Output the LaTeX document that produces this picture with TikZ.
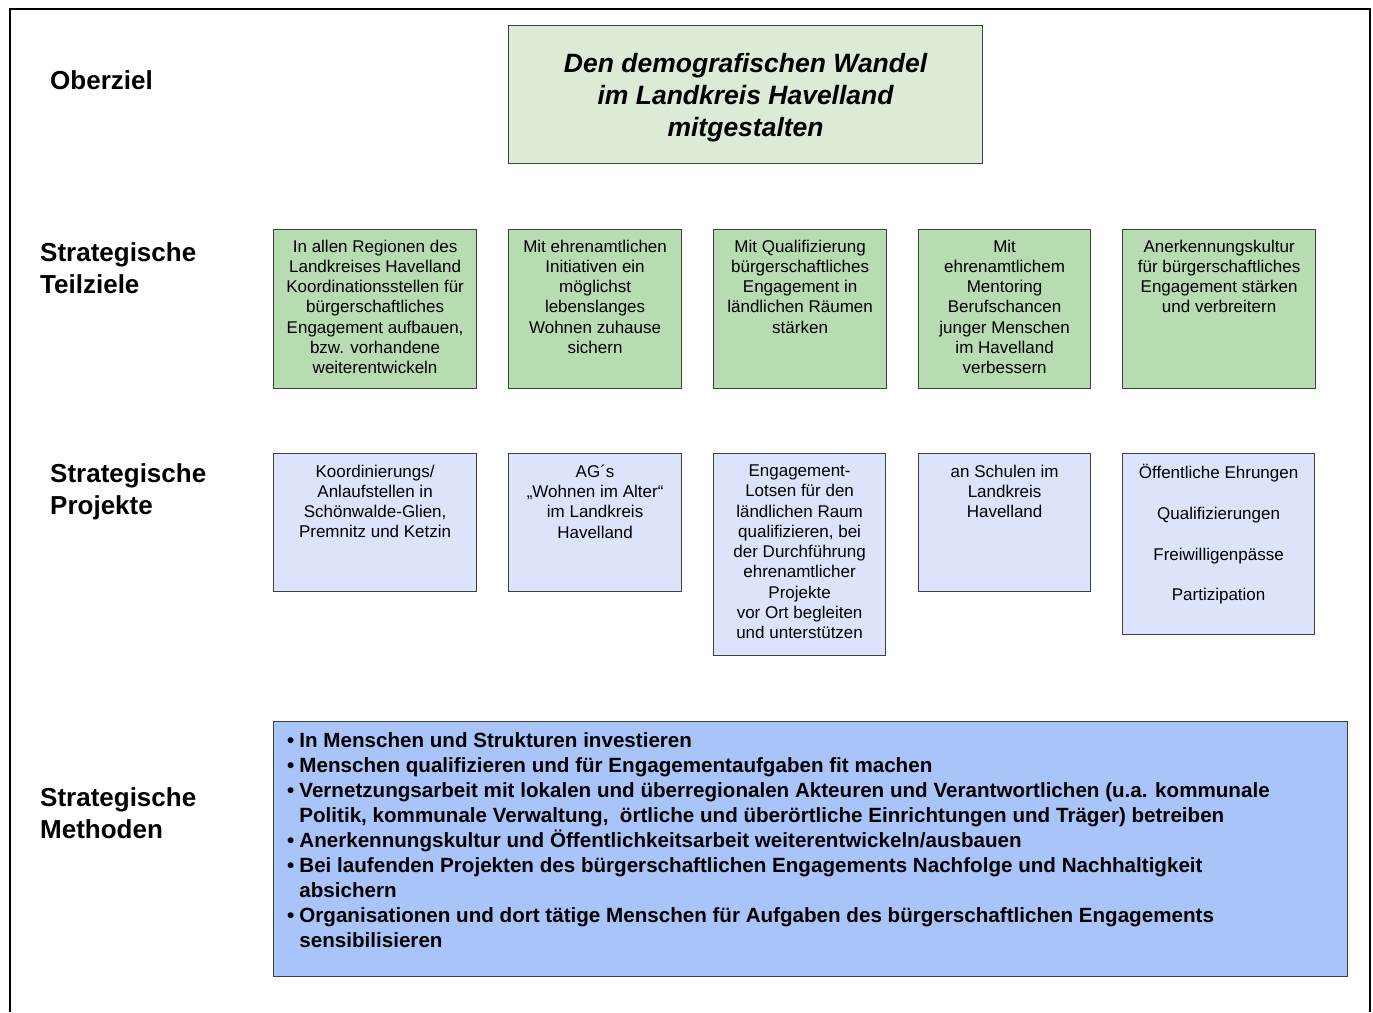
\documentclass[tikz,border=0pt]{standalone}
\usepackage{fontspec}
\setmainfont{Liberation Sans}
\usepackage{tikz}
\definecolor{zielgreen}{RGB}{220,235,214}
\definecolor{teilgreen}{RGB}{184,220,178}
\definecolor{projblue}{RGB}{220,228,251}
\definecolor{methblue}{RGB}{169,196,249}
\tikzset{
  box/.style={draw=black!75,line width=1.2pt,anchor=north west,inner sep=0pt},
  boxtext/.style={anchor=north,align=center,inner sep=0pt,font=\fontsize{17}{20.3}\selectfont},
}

\begin{document}
\begin{tikzpicture}[x=1pt,y=-1pt]
   \useasboundingbox (0,0) rectangle (1373,1012);
   \draw[line width=1.6pt] (10,1012) -- (10,9) -- (1370,9) -- (1370,1012);
   \begin{scope}[every node/.style={anchor=west,align=left,inner sep=0pt,font=\fontsize{26}{32}\selectfont\bfseries}]
    \node (oberziel) at (50,80) {Oberziel};
    \node (teilziele) at (40,268) {Strategische\\Teilziele};
    \node (projekte) at (50,492) {Strategische\\Projekte};
    \node (methoden) at (40,813) {Strategische\\Methoden};
   \end{scope}
   \node[box,fill=zielgreen,minimum width=474pt,minimum height=138pt] (ober) at (508,25) {};
   \node[align=center,inner sep=0pt,font=\fontsize{26.5}{32}\selectfont\bfseries\itshape] (obertext) at ([yshift=-3pt]ober.center) {Den demografischen Wandel\\im Landkreis Havelland\\mitgestalten};
   \begin{scope}[every node/.append style={fill=teilgreen}]
    \node[box,minimum width=203pt,minimum height=159pt] (t1) at (273,229) {};
    \node[box,minimum width=173pt,minimum height=159pt] (t2) at (508,229) {};
    \node[box,minimum width=173pt,minimum height=159pt] (t3) at (713,229) {};
    \node[box,minimum width=172pt,minimum height=159pt] (t4) at (918,229) {};
    \node[box,minimum width=193pt,minimum height=159pt] (t5) at (1122,229) {};
   \end{scope}
   \node[boxtext] (t1text) at ([yshift=-10.5pt]t1.north) {In allen Regionen des\\Landkreises Havelland\\Koordinationsstellen für\\bürgerschaftliches\\Engagement aufbauen,\\bzw. vorhandene\\weiterentwickeln};
   \node[boxtext] (t2text) at ([yshift=-10.5pt]t2.north) {Mit ehrenamtlichen\\Initiativen ein\\möglichst\\lebenslanges\\Wohnen zuhause\\sichern};
   \node[boxtext] (t3text) at ([yshift=-10.5pt]t3.north) {Mit Qualifizierung\\bürgerschaftliches\\Engagement in\\ländlichen Räumen\\stärken};
   \node[boxtext] (t4text) at ([yshift=-10.5pt]t4.north) {Mit\\ehrenamtlichem\\Mentoring\\Berufschancen\\junger Menschen\\im Havelland\\verbessern};
   \node[boxtext] (t5text) at ([yshift=-10.5pt]t5.north) {Anerkennungskultur\\für bürgerschaftliches\\Engagement stärken\\und verbreitern};
   \begin{scope}[every node/.append style={fill=projblue}]
    \node[box,minimum width=203pt,minimum height=138pt] (p1) at (273,453) {};
    \node[box,minimum width=173pt,minimum height=138pt] (p2) at (508,453) {};
    \node[box,minimum width=172pt,minimum height=202pt] (p3) at (713,453) {};
    \node[box,minimum width=172pt,minimum height=138pt] (p4) at (918,453) {};
    \node[box,minimum width=192pt,minimum height=181pt] (p5) at (1122,453) {};
   \end{scope}
   \node[boxtext] (p1text) at ([yshift=-11.5pt]p1.north) {Koordinierungs/\\Anlaufstellen in\\Schönwalde-Glien,\\Premnitz und Ketzin};
   \node[boxtext] (p2text) at ([yshift=-11.5pt]p2.north) {AG´s\\„Wohnen im Alter“\\im Landkreis\\Havelland};
   \node[boxtext] (p3text) at ([yshift=-11.5pt]p3.north) {Engagement-\\Lotsen für den\\ländlichen Raum\\qualifizieren, bei\\der Durchführung\\ehrenamtlicher\\Projekte\\vor Ort begleiten\\und unterstützen};
   \node[boxtext] (p4text) at ([yshift=-11.5pt]p4.north) {an Schulen im\\Landkreis\\Havelland};
   \node[boxtext] (p5text) at ([yshift=-11.5pt]p5.north) {Öffentliche Ehrungen\\[20.3pt]Qualifizierungen\\[20.3pt]Freiwilligenpässe\\[20.3pt]Partizipation};
   \node[box,fill=methblue,minimum width=1074pt,minimum height=255pt] (meth) at (273,721) {};
   \node[anchor=north west,align=left,inner sep=0pt,font=\fontsize{20.6}{25}\selectfont\bfseries] (methtext) at ([xshift=14pt,yshift=-11pt]meth.north west)
    {•\kern5pt In Menschen und Strukturen investieren\\
     •\kern5pt Menschen qualifizieren und für Engagementaufgaben fit machen\\
     •\kern5pt Vernetzungsarbeit mit lokalen und überregionalen Akteuren und Verantwortlichen (u.a. kommunale\\
     \hphantom{•\kern5pt}Politik, kommunale Verwaltung,\ \ örtliche und überörtliche Einrichtungen und Träger) betreiben\\
     •\kern5pt Anerkennungskultur und Öffentlichkeitsarbeit weiterentwickeln/ausbauen\\
     •\kern5pt Bei laufenden Projekten des bürgerschaftlichen Engagements Nachfolge und Nachhaltigkeit\\
     \hphantom{•\kern5pt}absichern\\
     •\kern5pt Organisationen und dort tätige Menschen für Aufgaben des bürgerschaftlichen Engagements\\
     \hphantom{•\kern5pt}sensibilisieren};
\end{tikzpicture}
\end{document}
